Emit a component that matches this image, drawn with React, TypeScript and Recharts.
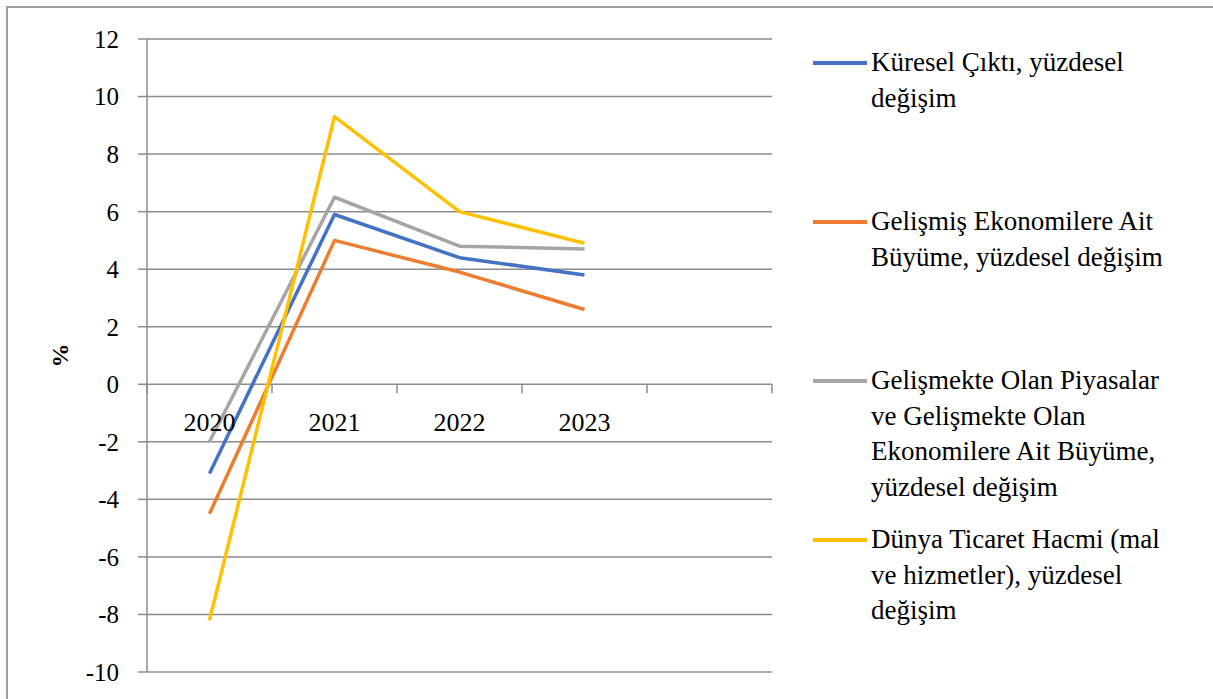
import React from 'react'
import { LineChart, Line, XAxis, YAxis, CartesianGrid, Legend } from 'recharts'

const years = ['2020', '2021', '2022', '2023', '']
const kuresel = [-3.1, 5.9, 4.4, 3.8, null]
const gelismis = [-4.5, 5.0, 3.9, 2.6, null]
const gelismekte = [-2.0, 6.5, 4.8, 4.7, null]
const ticaret = [-8.2, 9.3, 6.0, 4.9, null]
const yTicks = [-10, -8, -6, -4, -2, 0, 2, 4, 6, 8, 10, 12]

const seriesNames = [
  'Küresel Çıktı, yüzdesel değişim',
  'Gelişmiş Ekonomilere Ait Büyüme, yüzdesel değişim',
  'Gelişmekte Olan Piyasalar ve Gelişmekte Olan Ekonomilere Ait Büyüme, yüzdesel değişim',
  'Dünya Ticaret Hacmi (mal ve hizmetler), yüzdesel değişim',
]
const seriesKeys = ['kuresel', 'gelismis', 'gelismekte', 'ticaret']
const seriesColors = ['#4472C4', '#ED7D31', '#A5A5A5', '#FFC000']

const data = years.map((year, i) => ({
  year,
  kuresel: kuresel[i],
  gelismis: gelismis[i],
  gelismekte: gelismekte[i],
  ticaret: ticaret[i],
}))

const FONT = 'Liberation Serif, DejaVu Serif, serif'
const GRID = '#8c8c8c'
const W = 1213
const H = 699
const MARGIN = { top: 39, right: 441, bottom: 0, left: 0 }
const Y_AXIS_W = 147
const X_AXIS_H = 27
const Y_MIN = -10
const Y_MAX = 12

// x labels sit under the zero line, not at the bottom
const plotTop = MARGIN.top
const plotH = H - MARGIN.top - MARGIN.bottom - X_AXIS_H
const plotW = W - MARGIN.left - MARGIN.right - Y_AXIS_W
const zeroY = plotTop + (plotH * Y_MAX) / (Y_MAX - Y_MIN)
const band = plotW / years.length

const XTick = (props: any) => {
  const { x, payload, index } = props
  return (
    <g>
      {index === 0 && (
        <line x1={x - band / 2} x2={x - band / 2} y1={zeroY} y2={zeroY + 9} stroke={GRID} strokeWidth={1.5} />
      )}
      <line x1={x + band / 2} x2={x + band / 2} y1={zeroY} y2={zeroY + 9} stroke={GRID} strokeWidth={1.5} />
      <text x={x} y={zeroY + 47} textAnchor="middle" fill="#000" fontSize={26} fontFamily={FONT}>
        {payload.value}
      </text>
    </g>
  )
}

const LegendBox = (props: any) => {
  const items = [...(props.payload || [])].sort(
    (a: any, b: any) => seriesNames.indexOf(a.value) - seriesNames.indexOf(b.value)
  )
  return (
    <div style={{ fontFamily: FONT, fontSize: 27, color: '#000' }}>
      {items.map((p: any) => (
        <div key={p.value} style={{ height: 159, display: 'flex', alignItems: 'flex-start' }}>
          <div style={{ width: 54, height: 3.5, background: p.color, marginTop: 16, marginRight: 4, flex: 'none' }} />
          <div style={{ width: 308, lineHeight: '35.5px' }}>{p.value}</div>
        </div>
      ))}
    </div>
  )
}

export default function App() {
  return (
    <div style={{ position: 'absolute', left: 0, top: 0, width: W, height: H, overflow: 'hidden', background: '#fff' }}>
      <div
        style={{
          position: 'absolute',
          left: 6,
          top: 6,
          width: W + 100,
          height: H + 100,
          borderTop: '2px solid #a0a0a0',
          borderLeft: '2px solid #a0a0a0',
        }}
      />
      <div style={{ position: 'absolute', left: 0, top: 0 }}>
        <LineChart width={W} height={H} data={data} margin={MARGIN}>
          <CartesianGrid vertical={false} stroke={GRID} strokeWidth={1.5} />
          <XAxis
            dataKey="year"
            height={X_AXIS_H}
            axisLine={false}
            tickLine={false}
            interval={0}
            padding={{ left: band / 2, right: band / 2 }}
            tick={(p: any) => <XTick {...p} />}
          />
          <YAxis
            width={Y_AXIS_W}
            domain={[Y_MIN, Y_MAX]}
            ticks={yTicks}
            interval={0}
            axisLine={{ stroke: GRID, strokeWidth: 1.5 }}
            tickLine={{ stroke: GRID, strokeWidth: 1.5 }}
            tickSize={9}
            tickMargin={19}
            tick={{ fill: '#000', fontSize: 25, fontFamily: FONT }}
            label={({ viewBox }: any) => (
              <text
                x={viewBox.x + 60}
                y={viewBox.y + viewBox.height / 2}
                transform={`rotate(-90 ${viewBox.x + 60} ${viewBox.y + viewBox.height / 2})`}
                textAnchor="middle"
                dominantBaseline="central"
                fontSize={24}
                fontWeight="bold"
                fontFamily={FONT}
                fill="#000"
              >
                %
              </text>
            )}
          />
          <Legend
            layout="vertical"
            align="center"
            verticalAlign="middle"
            itemSorter={null}
            content={(p: any) => <LegendBox {...p} />}
            wrapperStyle={{ left: 813, top: 45, width: 400 }}
          />
          {seriesKeys.map((k, i) => (
            <Line
              key={k}
              type="linear"
              dataKey={k}
              name={seriesNames[i]}
              stroke={seriesColors[i]}
              strokeWidth={3.5}
              strokeLinejoin="round"
              dot={false}
              activeDot={false}
              isAnimationActive={false}
            />
          ))}
        </LineChart>
      </div>
    </div>
  )
}
